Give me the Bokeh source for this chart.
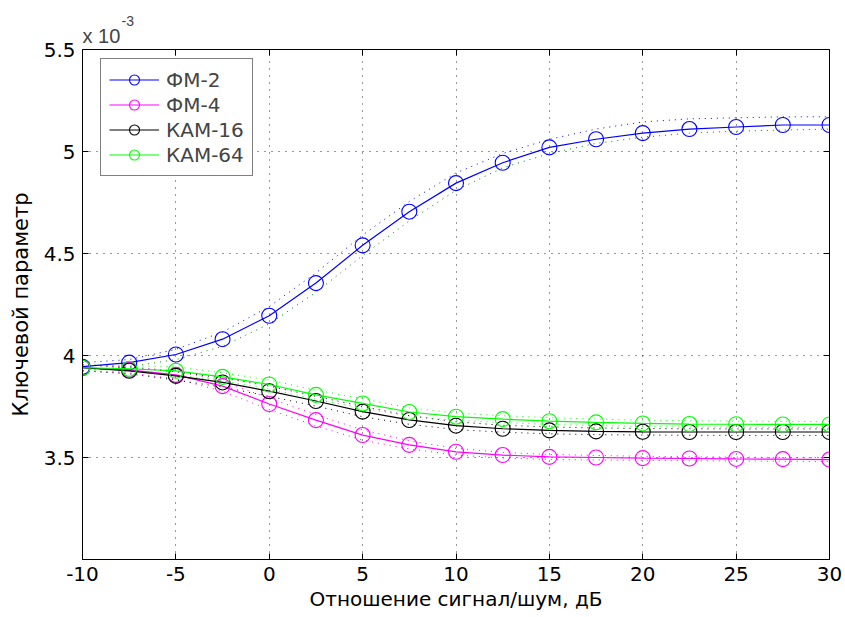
from bokeh.plotting import figure
from bokeh.models import Range1d, FixedTicker, LinearAxis, Legend, LegendItem, Title
from bokeh.embed import file_html
from bokeh.resources import INLINE

# Signal-to-noise ratio, dB
snr_db = [-10, -7.5, -5, -2.5, 0, 2.5, 5, 7.5, 10, 12.5, 15, 17.5, 20, 22.5, 25, 27.5, 30]

# Key parameter, units of 1e-3
fm2 = [3.945, 3.965, 4.005, 4.08, 4.195, 4.355, 4.54, 4.705, 4.845, 4.945, 5.02, 5.06, 5.09, 5.11, 5.12, 5.13, 5.13]
fm4 = [3.94, 3.93, 3.905, 3.85, 3.762, 3.683, 3.61, 3.562, 3.528, 3.512, 3.503, 3.50, 3.497, 3.495, 3.493, 3.492, 3.49]
kam16 = [3.94, 3.925, 3.90, 3.868, 3.825, 3.777, 3.725, 3.684, 3.656, 3.641, 3.633, 3.628, 3.626, 3.625, 3.625, 3.625, 3.625]
kam64 = [3.94, 3.935, 3.925, 3.895, 3.858, 3.807, 3.765, 3.723, 3.700, 3.688, 3.678, 3.672, 3.667, 3.664, 3.663, 3.662, 3.662]

# Upper / lower bounds for each curve
fm2_hi = [3.965, 3.98, 4.03, 4.115, 4.24, 4.405, 4.59, 4.755, 4.895, 4.99, 5.06, 5.11, 5.145, 5.16, 5.165, 5.17, 5.17]
fm2_lo = [3.925, 3.945, 3.98, 4.045, 4.155, 4.31, 4.49, 4.66, 4.81, 4.92, 4.99, 5.04, 5.07, 5.09, 5.10, 5.105, 5.11]
fm4_hi = [3.955, 3.945, 3.925, 3.875, 3.79, 3.71, 3.635, 3.582, 3.545, 3.525, 3.515, 3.51, 3.506, 3.504, 3.502, 3.50, 3.50]
fm4_lo = [3.925, 3.915, 3.885, 3.825, 3.735, 3.655, 3.585, 3.542, 3.512, 3.498, 3.49, 3.488, 3.486, 3.484, 3.483, 3.482, 3.48]
kam16_hi = [3.955, 3.94, 3.92, 3.89, 3.85, 3.80, 3.75, 3.705, 3.675, 3.658, 3.65, 3.645, 3.642, 3.641, 3.64, 3.64, 3.64]
kam16_lo = [3.925, 3.91, 3.88, 3.845, 3.80, 3.752, 3.70, 3.663, 3.637, 3.624, 3.616, 3.612, 3.61, 3.609, 3.608, 3.608, 3.608]
kam64_hi = [3.955, 3.95, 3.945, 3.915, 3.88, 3.83, 3.788, 3.743, 3.718, 3.705, 3.695, 3.688, 3.683, 3.68, 3.678, 3.677, 3.677]
kam64_lo = [3.925, 3.92, 3.905, 3.875, 3.836, 3.785, 3.742, 3.703, 3.682, 3.671, 3.662, 3.657, 3.652, 3.649, 3.648, 3.647, 3.647]

x_ticks = [-10, -5, 0, 5, 10, 15, 20, 25, 30]
x_tick_labels = ["-10", "-5", "0", "5", "10", "15", "20", "25", "30"]
y_ticks = [3.5, 4.0, 4.5, 5.0, 5.5]
y_tick_labels = ["3.5", "4", "4.5", "5", "5.5"]

FONT = "DejaVu Sans"

p = figure(width=845, height=617, output_backend="svg", toolbar_location=None,
           x_range=Range1d(-10, 30), y_range=Range1d(3.0, 5.5),
           min_border_left=82, min_border_right=16, min_border_top=49, min_border_bottom=58)
p.title.text = ""
p.title.visible = False
p.background_fill_color = "white"
p.border_fill_color = "white"
p.outline_line_color = "black"
p.outline_line_width = 1

# Axes with inward ticks
for ax in (p.xaxis[0], p.yaxis[0]):
    ax.major_tick_in = 6
    ax.major_tick_out = 0
    ax.minor_tick_line_color = None
    ax.axis_line_color = "black"
    ax.major_tick_line_color = "black"
    ax.major_label_text_font = FONT
    ax.major_label_text_font_size = "20px"
    ax.major_label_text_color = "black"
    ax.axis_label_text_font = FONT
    ax.axis_label_text_font_style = "normal"
    ax.axis_label_text_color = "black"

p.xaxis.ticker = FixedTicker(ticks=x_ticks)
p.yaxis.ticker = FixedTicker(ticks=y_ticks)
p.xaxis.major_label_overrides = {t: s for t, s in zip(x_ticks, x_tick_labels)}
p.yaxis.major_label_overrides = {t: s for t, s in zip(y_ticks, y_tick_labels)}
p.xaxis.axis_label = "Отношение сигнал/шум, дБ"
p.yaxis.axis_label = "Ключевой параметр"
p.xaxis.axis_label_text_font_size = "20px"
p.yaxis.axis_label_text_font_size = "21px"
p.xaxis.major_label_standoff = 7
p.xaxis.axis_label_standoff = 3
p.yaxis.major_label_standoff = 7
p.yaxis.axis_label_standoff = 8

# Top and right edges carry inward ticks only (labels are not drawn)
top_axis = LinearAxis(ticker=FixedTicker(ticks=x_ticks), major_tick_in=6, major_tick_out=0,
                      minor_tick_line_color=None, major_label_text_font_size="1px",
                      major_label_text_color=None, major_label_standoff=0,
                      axis_line_color="black")
right_axis = LinearAxis(ticker=FixedTicker(ticks=y_ticks), major_tick_in=6, major_tick_out=0,
                        minor_tick_line_color=None, major_label_text_font_size="1px",
                        major_label_text_color=None, major_label_standoff=0,
                        axis_line_color="black")
p.add_layout(top_axis, "above")
p.add_layout(right_axis, "right")

# Axis multiplier "x 10^-3" above the top-left corner
p.add_layout(Title(text="x 10", align="left", offset=0, standoff=6,
                   text_font="Liberation Sans", text_font_size="20px",
                   text_font_style="normal"), "above")
p.add_layout(Title(text="-3", align="left", offset=39, standoff=-12,
                   text_font="Liberation Sans", text_font_size="14px",
                   text_font_style="normal"), "above")

# Dotted grid
for g in (p.xgrid[0], p.ygrid[0]):
    g.grid_line_color = "black"
    g.grid_line_dash = "1 6"
    g.grid_line_width = 1
    g.grid_line_alpha = 0.8
p.xgrid.ticker = FixedTicker(ticks=x_ticks)
p.ygrid.ticker = FixedTicker(ticks=y_ticks)

# Bound curves (dotted)
bounds = [
    (fm2_hi, "#0000ff"), (fm2_lo, "#008000"),
    (fm4_hi, "#ff00ff"), (fm4_lo, "#ff00ff"),
    (kam16_hi, "#000000"), (kam16_lo, "#000000"),
    (kam64_hi, "#00ff00"), (kam64_lo, "#00ff00"),
]
for ys, col in bounds:
    p.line(snr_db, ys, line_color=col, line_width=1, line_dash="1 5")

# Main curves with circle markers
series = [
    ("ФМ-2", fm2, "#0000ff"),
    ("ФМ-4", fm4, "#ff00ff"),
    ("КАМ-16", kam16, "#000000"),
    ("КАМ-64", kam64, "#00ff00"),
]
items = []
for name, ys, col in series:
    ln = p.line(snr_db, ys, line_color=col, line_width=1.2)
    mk = p.scatter(snr_db, ys, marker="circle", size=15, fill_color=None,
                   line_color=col, line_width=1.1)
    items.append(LegendItem(label=name, renderers=[ln, mk]))

legend = Legend(items=items, location=(18, 383), margin=0, padding=8, spacing=0,
                glyph_width=50, glyph_height=25, label_standoff=7,
                label_text_font=FONT, label_text_font_size="20px",
                border_line_color="black", border_line_width=1,
                background_fill_color="white", background_fill_alpha=1.0)
p.add_layout(legend)

open("out.html", "w").write(file_html(p, INLINE))
